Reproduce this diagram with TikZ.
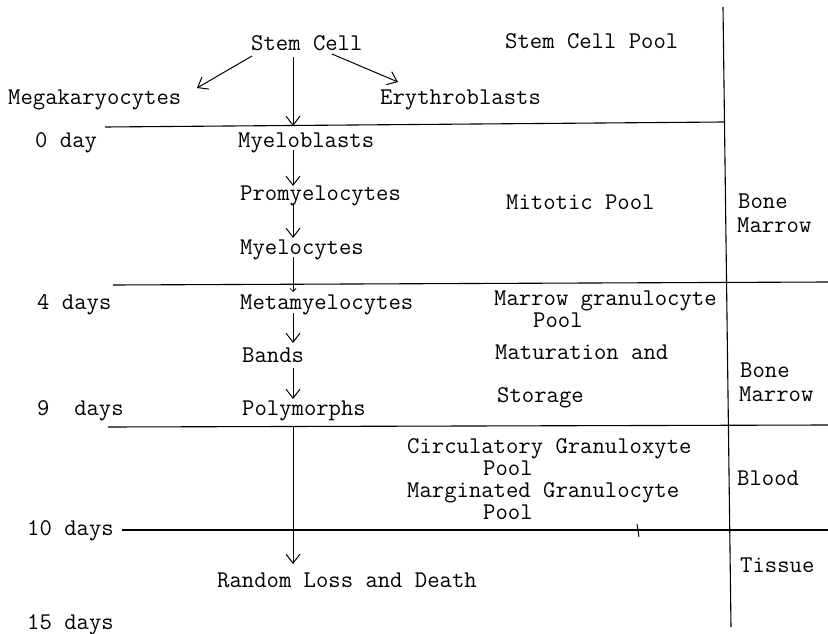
\documentclass[tikz,border=0pt]{standalone}
\usetikzlibrary{arrows.meta}
\tikzset{
  lbl/.style={anchor=west,inner sep=0pt,yshift=-4.7pt,font=\fontsize{24}{25}\selectfont\ttfamily,text height=1.3ex,text depth=.2ex},
  rule/.style={line width=1.1pt},
  arr/.style={line width=1pt,-{Straight Barb[length=9pt,width=14pt,line width=1pt]}},
  tinyarr/.style={line width=1pt,-{Straight Barb[length=3pt,width=6pt,line width=0.8pt]}},
}
\begin{document}
\begin{tikzpicture}[x=1pt,y=-1pt]
\useasboundingbox[fill=white] (0,0) rectangle (828,634);
% texts
\node[lbl] (stem) at (251,43) {Stem Cell};
\node[lbl] (stempool) at (505,41) {Stem Cell Pool};
\node[lbl] (mega) at (8,97) {Megakaryocytes};
\node[lbl] (ery) at (380,97) {Erythroblasts};
\node[lbl] (d0) at (35,140) {0 day};
\node[lbl] (myb) at (238,140) {Myeloblasts};
\node[lbl] (prom) at (240,193) {Promyelocytes};
\node[lbl] (mit) at (506,202) {Mitotic Pool};
\node[lbl] (bone1) at (738,201) {Bone};
\node[lbl] (mar1) at (737,225) {Marrow};
\node[lbl] (myc) at (240,247) {Myelocytes};
\node[lbl] (d4) at (37,302) {4 days};
\node[lbl] (meta) at (240,302) {Metamyelocytes};
\node[lbl] (mgp) at (494,298) {Marrow granulocyte};
\node[lbl] (mgp2) at (533,320) {Pool};
\node[lbl] (bands) at (242,355) {Bands};
\node[lbl] (mat) at (495,352) {Maturation and};
\node[lbl] (bone2) at (740,370) {Bone};
\node[lbl] (mar2) at (739,394) {Marrow};
\node[lbl] (sto) at (497,395) {Storage};
\node[lbl] (d9) at (37,408) {9~~days};
\node[lbl] (poly) at (242,408) {Polymorphs};
\node[lbl] (circ) at (407,446) {Circulatory Granuloxyte};
\node[lbl] (circ2) at (483,468) {Pool};
\node[lbl] (marg) at (407,490) {Marginated Granulocyte};
\node[lbl] (marg2) at (483,512) {Pool};
\node[lbl] (blood) at (737,478) {Blood};
\node[lbl] (d10) at (27,528) {10 days};
\node[lbl] (tis) at (740,565) {Tissue};
\node[lbl] (rand) at (217,580) {Random Loss and Death};
\node[lbl] (d15) at (27,622) {15 days};
% rules
\coordinate (vtop) at (723,7);
\coordinate (vbot) at (731,627);
\draw[rule] (vtop) -- (vbot);
\coordinate (l0a) at (105,127); \coordinate (l0b) at (724,122);
\coordinate (l4a) at (113,285); \coordinate (l4b) at (828,282);
\coordinate (l9a) at (108,427); \coordinate (l9b) at (828,425);
\coordinate (l10a) at (122,530); \coordinate (l10b) at (828,530);
\draw[rule] (l0a) -- (l0b);
\draw[rule] (l4a) -- (l4b);
\draw[rule] (l9a) -- (l9b);
\draw[rule] (l10a) -- (l10b);
% scan mark
\coordinate (mk1) at (637,524); \coordinate (mk2) at (639,537);
\draw[line width=1pt] (mk1) -- (mk2);
% arrows
\coordinate (s1) at (252,56); \coordinate (e1) at (197,88);
\coordinate (s2) at (332,54); \coordinate (e2) at (398,82);
\coordinate (s3) at (293,57); \coordinate (e3) at (293,126);
\coordinate (s4) at (293,150); \coordinate (e4) at (293,186);
\coordinate (s5) at (293,203); \coordinate (e5) at (293,238);
\coordinate (s6) at (293,257); \coordinate (e6) at (293,292);
\coordinate (s7) at (293,313); \coordinate (e7) at (293,343);
\coordinate (s8) at (293,368); \coordinate (e8) at (293,399);
\coordinate (s9) at (293,427); \coordinate (e9) at (293,564);
\draw[arr] (s1) -- (e1);
\draw[arr] (s2) -- (e2);
\draw[arr] (s3) -- (e3);
\draw[arr] (s4) -- (e4);
\draw[arr] (s5) -- (e5);
\draw[tinyarr] (s6) -- (e6);
\draw[arr] (s7) -- (e7);
\draw[arr] (s8) -- (e8);
\draw[arr] (s9) -- (e9);
\end{tikzpicture}
\end{document}
